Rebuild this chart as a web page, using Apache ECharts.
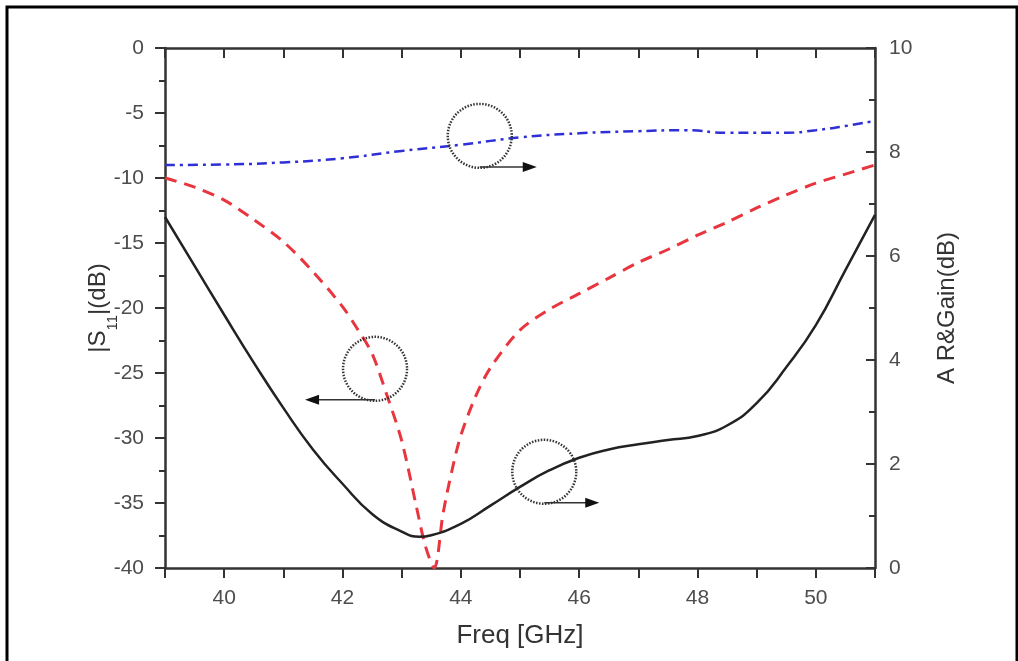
<!DOCTYPE html>
<html>
<head>
<meta charset="utf-8">
<script src="https://cdn.jsdelivr.net/npm/echarts@6/dist/echarts.min.js"></script>
<style>
html,body{margin:0;padding:0;background:#fff;}
#chart{width:1018px;height:661px;}
</style>
</head>
<body>
<div id="chart"></div>
<script>
// ---- data ----
var xTicks = [40, 42, 44, 46, 48, 50];
var s11Freq = [39, 39.5, 40, 40.5, 41, 41.5, 42, 42.25, 42.5, 42.75, 43, 43.25, 43.4, 43.55, 43.7, 43.85, 44, 44.25, 44.5, 45, 45.5, 46, 46.5, 47, 47.5, 48, 48.5, 49, 49.5, 50, 50.5, 51];
var s11Val  = [-10, -10.7, -11.7, -13.2, -14.9, -17.2, -19.9, -21.6, -23.5, -26.7, -30.2, -35.3, -38.3, -40, -35.8, -32.5, -29.8, -26.8, -24.6, -21.7, -20.1, -18.9, -17.7, -16.5, -15.5, -14.4, -13.4, -12.3, -11.3, -10.4, -9.7, -9.0];
var arFreq = [39, 39.5, 40, 40.5, 41, 41.5, 42, 42.5, 43, 43.3, 43.5, 44, 44.5, 45, 45.5, 46, 46.5, 47, 47.5, 48, 48.5, 49, 49.5, 50, 50.5, 51];
var arVal  = [6.75, 5.81, 4.87, 3.95, 3.08, 2.28, 1.62, 1.04, 0.7, 0.6, 0.63, 0.85, 1.2, 1.56, 1.88, 2.12, 2.28, 2.38, 2.46, 2.54, 2.74, 3.17, 3.86, 4.67, 5.73, 6.79];
var gainFreq = [39, 40, 41, 42, 43, 44, 45, 46, 47, 47.8, 48.5, 49.5, 50, 50.5, 51];
var gainVal  = [7.75, 7.76, 7.8, 7.88, 8.02, 8.14, 8.28, 8.36, 8.4, 8.42, 8.37, 8.37, 8.42, 8.5, 8.6];
// annotation anchors (freq, right-axis value, arrow direction)
var annFreq = [44.32, 42.55, 45.41];
var annVal  = [8.31, 3.83, 1.85];
var annDir  = [1, -1, 1];

function pairs(xs, ys){ return xs.map(function(x,i){ return [x, ys[i]]; }); }

var font = 'Liberation Sans, Arial, sans-serif';
var axisColor = '#333';
var labelColor = '#4d4d4d';

var chart = echarts.init(document.getElementById('chart'));
var option = {
  animation: false,
  backgroundColor: '#fff',
  grid: {left: 165, right: 143, top: 48, bottom: 93, containLabel: false},
  xAxis: [{
    type: 'value', min: 39, max: 51, interval: 1, position: 'bottom',
    name: 'Freq [GHz]', nameLocation: 'middle', nameGap: 55, nameMoveOverlap: false,
    nameTextStyle: {fontFamily: font, fontSize: 26, color: '#333'},
    axisLine: {show: true, lineStyle: {color: axisColor, width: 2.5}},
    axisTick: {show: true, inside: false, length: 10, lineStyle: {color: axisColor, width: 2}},
    axisLabel: {show: true, margin: 20, fontFamily: font, fontSize: 21, color: labelColor,
      formatter: function(v){ return xTicks.indexOf(v) >= 0 ? String(v) : ''; }},
    splitLine: {show: false}
  }, {
    type: 'value', min: 39, max: 51, interval: 1, position: 'top',
    axisLine: {show: true, lineStyle: {color: axisColor, width: 2.5}},
    axisTick: {show: true, inside: true, length: 10, lineStyle: {color: axisColor, width: 2}},
    axisLabel: {show: false},
    splitLine: {show: false}
  }],
  yAxis: [{
    type: 'value', min: -40, max: 0, interval: 5, position: 'left',
    name: '{a||S}{s|11}{a||(dB)}', nameLocation: 'middle', nameGap: 55, nameMoveOverlap: false,
    nameTextStyle: {fontFamily: font, fontSize: 24, color: '#333',
      rich: {a: {fontFamily: font, fontSize: 24, color: '#333'}, s: {fontFamily: font, fontSize: 15, color: '#333', verticalAlign: 'bottom', padding: [0,0,-10,0]}}},
    axisLine: {show: true, lineStyle: {color: axisColor, width: 2.5}},
    axisTick: {show: true, inside: false, length: 10, lineStyle: {color: axisColor, width: 2}},
    minorTick: {show: true, splitNumber: 2, length: 6, lineStyle: {color: axisColor, width: 2}},
    axisLabel: {margin: 21, fontFamily: font, fontSize: 21, color: labelColor},
    splitLine: {show: false}
  }, {
    type: 'value', min: 0, max: 10, interval: 2, position: 'right',
    name: 'A R&Gain(dB)', nameLocation: 'middle', nameGap: 60, nameMoveOverlap: false,
    nameTextStyle: {fontFamily: font, fontSize: 24, color: '#333'},
    axisLine: {show: true, lineStyle: {color: axisColor, width: 2.5}},
    axisTick: {show: true, inside: true, length: 9, lineStyle: {color: axisColor, width: 2}},
    minorTick: {show: true, splitNumber: 2, length: 6, lineStyle: {color: axisColor, width: 2}},
    axisLabel: {margin: 14, fontFamily: font, fontSize: 21, color: labelColor},
    splitLine: {show: false}
  }],
  series: [{
    name: 'S11', type: 'line', xAxisIndex: 0, yAxisIndex: 0,
    data: pairs(s11Freq, s11Val), showSymbol: false, symbol: 'none',
    smooth: 0.3,
    lineStyle: {color: '#e8353e', width: 3, type: [12, 8]}
  }, {
    name: 'AR', type: 'line', xAxisIndex: 0, yAxisIndex: 1,
    data: pairs(arFreq, arVal), showSymbol: false, symbol: 'none',
    smooth: 0.5,
    lineStyle: {color: '#222', width: 2.5}
  }, {
    name: 'Gain', type: 'line', xAxisIndex: 0, yAxisIndex: 1,
    data: pairs(gainFreq, gainVal), showSymbol: false, symbol: 'none',
    smooth: 0.5,
    lineStyle: {color: '#2f2fd6', width: 2.5, type: [10, 5, 3, 5]}
  }]
};
chart.setOption(option);

// annotations placed via axis scales
var arrowLen = [57, 70, 55];
var r = 32;
var g = [{
  type: 'rect', shape: {x: 7, y: 7, width: 1010, height: 720},
  style: {fill: 'none', stroke: '#000', lineWidth: 3}, z: 100
}];
annFreq.forEach(function(f, i){
  var p = chart.convertToPixel({xAxisIndex: 0, yAxisIndex: 1}, [f, annVal[i]]);
  var cx = p[0], cy = p[1];
  g.push({type: 'circle', shape: {cx: cx, cy: cy, r: r},
    style: {fill: 'none', stroke: '#333', lineWidth: 2.5, lineDash: [1.5, 1.5]}, z: 50});
  var y0 = cy + r - 1;
  var x1 = cx + annDir[i] * arrowLen[i];
  g.push({type: 'line', shape: {x1: cx, y1: y0, x2: x1 - annDir[i] * 8, y2: y0},
    style: {stroke: '#333', lineWidth: 1.5}, z: 50});
  g.push({type: 'polygon', shape: {points: [[x1, y0], [x1 - annDir[i] * 14, y0 - 5], [x1 - annDir[i] * 14, y0 + 5]]},
    style: {fill: '#111'}, z: 50});
});
chart.setOption({graphic: g});
</script>
</body>
</html>
